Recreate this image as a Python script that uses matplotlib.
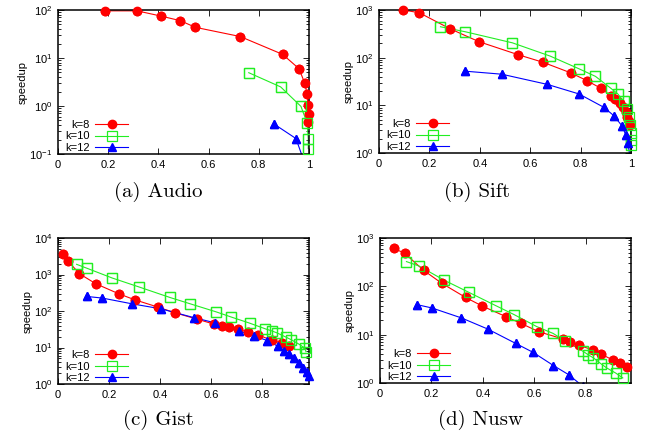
import numpy as np
import matplotlib
matplotlib.use('Agg')
import matplotlib.pyplot as plt
from matplotlib.ticker import FixedLocator, FuncFormatter, LogLocator, NullFormatter

plt.rcParams['font.family'] = ['Liberation Sans', 'DejaVu Sans']
plt.rcParams['mathtext.default'] = 'regular'

# (a) Audio
audio_k8_x = [0.187, 0.315, 0.409, 0.487, 0.547, 0.726, 0.895, 0.960, 0.983, 0.992, 0.997, 0.999, 0.998]
audio_k8_y = [96, 96, 75, 60, 43.6, 28, 11.9, 6.0, 3.0, 1.8, 1.03, 0.69, 0.46]
audio_k10_x = [0.760, 0.887, 0.968, 0.992, 0.997, 0.997]
audio_k10_y = [4.94, 2.5, 0.98, 0.45, 0.21, 0.13]
audio_k12_x = [0.861, 0.948, 0.985]
audio_k12_y = [0.42, 0.21, 0.06]

# (b) Sift
sift_k8_x = [0.097, 0.160, 0.282, 0.397, 0.553, 0.651, 0.761, 0.825, 0.879, 0.922, 0.938,
             0.955, 0.968, 0.979, 0.986, 0.991, 0.995]
sift_k8_y = [1000, 875, 404, 216, 115, 80, 48, 33, 23, 15.7, 13.7, 11, 9.1, 7.3, 5.8, 4.7, 3.8]
sift_k10_x = [0.244, 0.343, 0.529, 0.679, 0.795, 0.859, 0.919, 0.948, 0.971, 0.985, 0.993,
              0.998, 1.0, 1.0, 1.0]
sift_k10_y = [445, 349, 205, 108, 58, 40.5, 23, 17.3, 12.1, 8.4, 5.8, 3.9, 2.6, 1.9, 1.5]
sift_k12_x = [0.343, 0.487, 0.668, 0.794, 0.892, 0.933, 0.966, 0.979, 0.988, 0.996]
sift_k12_y = [52, 45, 27.5, 17.3, 9.1, 6.0, 3.6, 2.4, 1.64, 0.8]

# (c) Gist
gist_k8_x = [0.021, 0.038, 0.084, 0.148, 0.238, 0.301, 0.392, 0.460, 0.545, 0.613, 0.644,
             0.671, 0.707, 0.746, 0.784, 0.838, 0.881, 0.905]
gist_k8_y = [3650, 2400, 1050, 560, 297, 203, 128, 89, 60, 43.6, 40, 36.8, 31.8, 26.3, 22.2,
             15.9, 13.1, 10.8]
gist_k10_x = [0.073, 0.115, 0.213, 0.319, 0.439, 0.518, 0.620, 0.678, 0.752, 0.814, 0.838,
              0.859, 0.893, 0.916, 0.946, 0.969, 0.973]
gist_k10_y = [1900, 1470, 800, 453, 235, 158, 95, 69, 46.5, 32.4, 28.6, 25.2, 19.5, 16.2,
              12.3, 9.6, 7.7]
gist_k12_x = [0.114, 0.174, 0.289, 0.403, 0.533, 0.616, 0.710, 0.770, 0.821, 0.863, 0.885,
              0.905, 0.928, 0.946, 0.962, 0.976, 0.985]
gist_k12_y = [250, 226, 158, 115, 66, 47.4, 28.6, 20.8, 15.5, 10.8, 8.2, 6.7, 5.1, 3.85,
              2.8, 2.2, 1.66]

# (d) Nusw
nusw_k8_x = [0.054, 0.096, 0.170, 0.241, 0.333, 0.397, 0.490, 0.549, 0.618, 0.714, 0.741,
             0.775, 0.831, 0.860, 0.905, 0.936, 0.962]
nusw_k8_y = [612, 482, 214, 115, 59, 39.3, 23.6, 17.1, 11.5, 8.1, 7.2, 6.0, 4.8, 4.0, 3.0,
             2.55, 2.1]
nusw_k10_x = [0.103, 0.151, 0.251, 0.346, 0.450, 0.522, 0.610, 0.674, 0.719, 0.791, 0.810,
              0.831, 0.860, 0.883, 0.918, 0.945]
nusw_k10_y = [325, 264, 133, 75, 40, 26, 14.7, 10.6, 7.5, 4.5, 3.85, 3.3, 2.5, 2.04, 1.6, 1.27]
nusw_k12_x = [0.144, 0.202, 0.317, 0.419, 0.528, 0.596, 0.675, 0.734, 0.79]
nusw_k12_y = [41.8, 35.7, 22.2, 13.1, 6.6, 4.3, 2.3, 1.49, 0.85]

labels = ['k=8', 'k=10', 'k=12']
red = '#ff0000'
green = '#22ee22'
blue = '#0000ff'

fig = plt.figure(figsize=(6.49, 4.36), dpi=100)
W, H = 649.0, 436.0


def make_axes(left, right, top, bottom):
    return fig.add_axes([left / W, 1 - bottom / H, (right - left) / W, (bottom - top) / H])


def draw_panel(ax, series, xlim, ylim, xticks, caption, cap_x, cap_y):
    styles = [
        dict(color=red, marker='o', ms=6, mfc=red, mec=red),
        dict(color=green, marker='s', ms=6.5, mfc='none', mec=green, mew=0.9),
        dict(color=blue, marker='^', ms=5.5, mfc=blue, mec=blue),
    ]
    for (xs, ys), st, lab in zip(series, styles, labels):
        ax.plot(xs, ys, lw=0.8, label=lab, **st)
        # gnuplot draws points on the border unclipped
        xs = np.array(xs)
        ys = np.array(ys)
        keep = (ys >= ylim[0]) & (ys <= ylim[1])
        ax.plot(xs[keep], ys[keep], ls='none', clip_on=False, zorder=3, **st)
    ax.set_yscale('log')
    ax.set_xlim(*xlim)
    ax.set_ylim(*ylim)
    ax.xaxis.set_major_locator(FixedLocator(xticks))
    ax.xaxis.set_major_formatter(FuncFormatter(lambda v, p: '%g' % v))
    ax.yaxis.set_major_locator(LogLocator(base=10, numticks=10))
    ax.yaxis.set_minor_locator(LogLocator(base=10, subs=np.arange(2, 10), numticks=20))
    ax.yaxis.set_minor_formatter(NullFormatter())
    ax.tick_params(which='both', direction='in', top=True, right=True, labelsize=8,
                   width=0.6, color='black')
    ax.tick_params(which='major', length=4, pad=4)
    ax.tick_params(which='minor', length=2)
    for s in ax.spines.values():
        s.set_linewidth(1.1)
    ax.set_ylabel('speedup', fontsize=8, labelpad=1)
    ax.legend(loc='lower left', frameon=False, markerfirst=False, fontsize=8,
              handlelength=3.0, handletextpad=0.5, labelspacing=0.15,
              borderaxespad=0.0, bbox_to_anchor=(0.01, -0.025))
    fig.text(cap_x / W, 1 - cap_y / H, caption, ha='center', va='center',
             fontsize=15, family='cmr10')


ax_a = make_axes(58, 309, 10, 154)
draw_panel(ax_a, [(audio_k8_x, audio_k8_y), (audio_k10_x, audio_k10_y), (audio_k12_x, audio_k12_y)],
           (0, 1), (0.1, 100), [0, 0.2, 0.4, 0.6, 0.8, 1], '(a) Audio', 158, 192)

ax_b = make_axes(379, 631, 10, 153)
draw_panel(ax_b, [(sift_k8_x, sift_k8_y), (sift_k10_x, sift_k10_y), (sift_k12_x, sift_k12_y)],
           (0, 1), (1, 1000), [0, 0.2, 0.4, 0.6, 0.8, 1], '(b) Sift', 477, 192)

ax_c = make_axes(58, 309, 238, 384)
draw_panel(ax_c, [(gist_k8_x, gist_k8_y), (gist_k10_x, gist_k10_y), (gist_k12_x, gist_k12_y)],
           (0, 0.985), (1, 10000), [0, 0.2, 0.4, 0.6, 0.8], '(c) Gist', 158, 420)

ax_d = make_axes(380, 631, 238, 383)
draw_panel(ax_d, [(nusw_k8_x, nusw_k8_y), (nusw_k10_x, nusw_k10_y), (nusw_k12_x, nusw_k12_y)],
           (0, 0.977), (1, 1000), [0, 0.2, 0.4, 0.6, 0.8], '(d) Nusw', 481, 420)

fig.savefig('out.png', dpi=100)
